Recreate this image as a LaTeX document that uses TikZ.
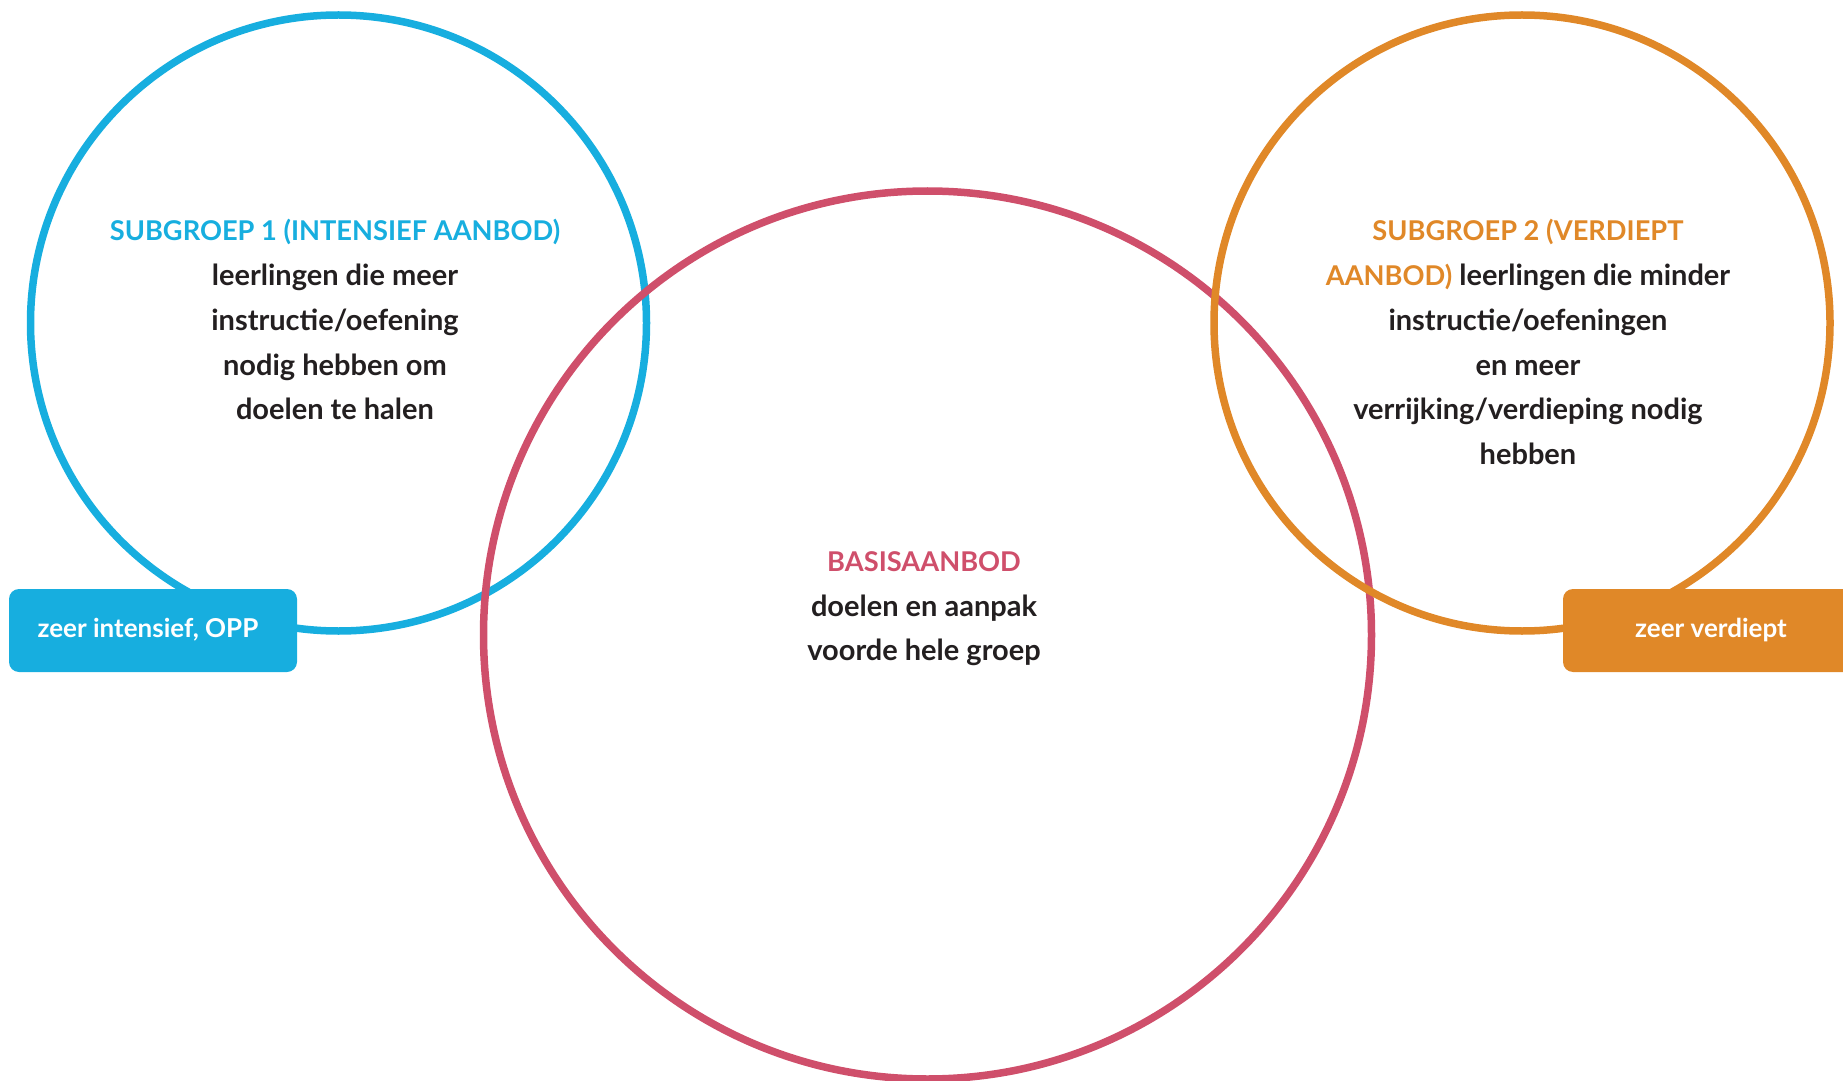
\documentclass[tikz,border=0pt]{standalone}
\usepackage{fontspec}
\setmainfont{Lato}
\definecolor{subblue}{HTML}{17AEDF}
\definecolor{basisred}{HTML}{CF4F6B}
\definecolor{suborange}{HTML}{E08828}
\definecolor{inkblack}{HTML}{231F20}
\newcommand{\kop}[2]{\textcolor{#1}{\fontsize{15.5}{25.5}\selectfont #2}}
\tikzset{
  ring/.style={circle, draw, line width=7.5*0.02cm, inner sep=0pt},
  uitleg/.style={align=center, anchor=north, inner sep=0pt, text=inkblack,
    font=\fontsize{16.5}{25.5}\selectfont\bfseries},
  tag/.style={inner sep=0pt, text=white,
    font=\fontsize{14.8}{18}\selectfont\bfseries}
}
\begin{document}
\begin{tikzpicture}[x=0.02cm, y=-0.02cm]
  \useasboundingbox (0,0) rectangle (1843,1081);
  \node[ring, subblue, minimum size=616*0.02cm] (sub1) at (338.5,323) {};
  \node[ring, basisred, minimum size=888*0.02cm] (basis) at (927.5,635) {};
  \node[ring, suborange, minimum size=616*0.02cm] (sub2) at (1522,323) {};
  \node[uitleg] (sub1txt) at (335,219)
    {\kop{subblue}{SUBGROEP 1 (INTENSIEF AANBOD)}\\
     leerlingen die meer\\ instructie/oefening\\ nodig hebben om\\ doelen te halen};
  \node[uitleg] (sub2txt) at (1528,219)
    {\kop{suborange}{SUBGROEP 2 (VERDIEPT}\\
     \kop{suborange}{AANBOD)} leerlingen die minder\\ instructie/oefeningen\\
     en meer\\ verrijking/verdieping nodig\\ hebben};
  \node[uitleg] (basistxt) at (924,551)
    {\kop{basisred}{BASISAANBOD}\\ doelen en aanpak\\ voorde hele groep};
  \fill[subblue, rounded corners=0.2cm] (9,589) rectangle (297,672);
  \node[tag] (zeer1) at (148,630) {zeer intensief, OPP};
  \fill[suborange, rounded corners=0.2cm] (1563,589) rectangle (1860,672);
  \node[tag] (zeer2) at (1711,630) {zeer verdiept};
\end{tikzpicture}
\end{document}
